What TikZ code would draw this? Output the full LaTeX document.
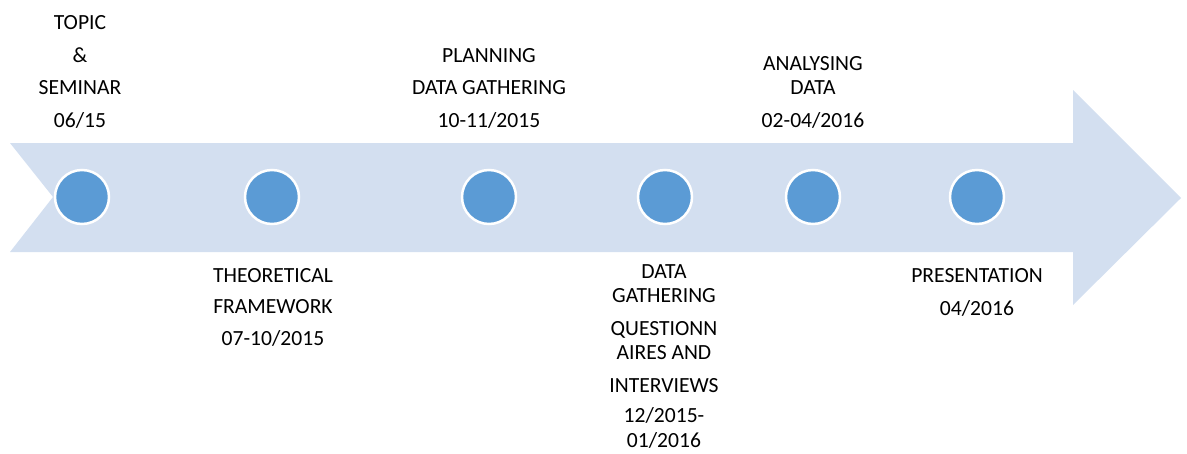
\documentclass[tikz,border=0pt]{standalone}
\usepackage{fontspec}
\setmainfont{Carlito}
\definecolor{bandblue}{HTML}{D3DFF0}
\definecolor{dotblue}{HTML}{5B9BD5}
\tikzset{
	stage/.style={circle, fill=dotblue, draw=white, line width=2.5pt, minimum size=54pt, inner sep=0pt},
	lbl/.style={align=center, inner sep=0pt, anchor=base, font=\fontsize{21.6}{24.5}\selectfont}
}

\begin{document}
\begin{tikzpicture}[x=1pt, y=-1pt]
			%%%%% START %%%%%
			
			\useasboundingbox (0, 0) rectangle (1187, 453);
			
			\fill[bandblue] (10, 143) -- (1073, 143) -- (1073, 90) -- (1181, 198) -- (1073, 305) -- (1073, 252) -- (10, 252) -- (53, 197) -- cycle;
			
			\node[stage] (c1) at (82, 197) {};
			\node[stage] (c2) at (272, 197) {};
			\node[stage] (c3) at (489, 197) {};
			\node[stage] (c4) at (665, 197) {};
			\node[stage] (c5) at (813, 197) {};
			\node[stage] (c6) at (977, 197) {};
			
			% labels, placed at the baseline of their last line
			\node[lbl] (topic) at (80, 127) {TOPIC\\[8pt]\&\\[8pt]SEMINAR\\[8pt]06/15};
			\node[lbl] (planning) at (489, 127) {PLANNING\\[8pt]DATA GATHERING\\[8pt]10-11/2015};
			\node[lbl] (analysing) at (813, 127) {ANALYSING\\DATA\\[8pt]02-04/2016};
			
			\node[lbl] (theory) at (273, 345) {THEORETICAL\\[7pt]FRAMEWORK\\[7pt]07-10/2015};
			\node[lbl] (gathering) at (664, 447) {DATA\\GATHERING\\[8pt]QUESTIONN\\AIRES AND\\[8pt]INTERVIEWS\\[6pt]12/2015-\\01/2016};
			\node[lbl] (presentation) at (977, 315) {PRESENTATION\\[8pt]04/2016};
			
			%%%%% END %%%%%
\end{tikzpicture}
\end{document}
